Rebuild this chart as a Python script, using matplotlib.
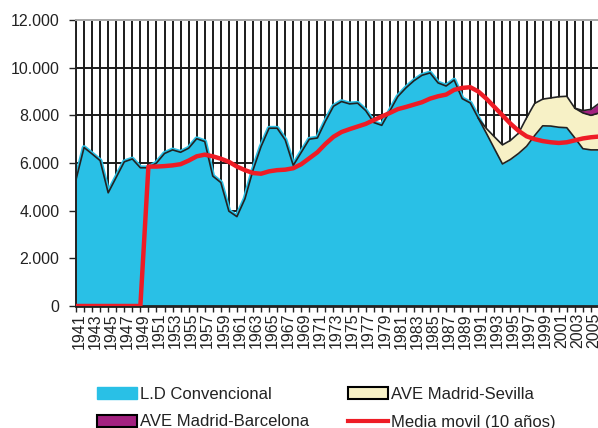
import numpy as np
import matplotlib.pyplot as plt
import matplotlib.transforms as mtransforms
from matplotlib.patches import Patch
from matplotlib.lines import Line2D

plt.rcParams['font.family'] = ['Liberation Sans', 'DejaVu Sans']

years = np.arange(1941, 2007)
convencional = [5300, 6650, 6380, 6100, 4750, 5400, 6050, 6170, 5800, 5800,
                6000, 6400, 6550, 6450, 6620, 7020, 6900, 5450, 5180, 3980,
                3750, 4500, 5700, 6690, 7460, 7460, 6970, 5900, 6450, 7000,
                7050, 7750, 8380, 8580, 8480, 8510, 8200, 7700, 7580, 8180,
                8790, 9150, 9450, 9680, 9780, 9360, 9230, 9480, 8700, 8520,
                7880, 7250, 6600, 5960, 6150, 6400, 6700, 7150, 7560, 7550,
                7500, 7480, 7050, 6600, 6550, 6550]
sevilla_years = np.arange(1991, 2007)
sevilla = [0, 200, 500, 800, 800, 850, 1200, 1350, 1120, 1180, 1280, 1320,
           1250, 1500, 1450, 1550]
barcelona_years = np.arange(2003, 2007)
barcelona = [0, 100, 250, 400]
media_movil = [0, 0, 0, 0, 0, 0, 0, 0, 0,
               5850, 5850, 5870, 5900, 5950, 6100, 6280, 6350, 6280, 6180,
               6050, 5850, 5700, 5580, 5550, 5650, 5700, 5720, 5780, 5950,
               6200, 6450, 6800, 7100, 7300, 7420, 7530, 7640, 7800, 7950,
               8100, 8260, 8350, 8450, 8550, 8700, 8800, 8870, 9070, 9150,
               9180, 9000, 8700, 8350, 8000, 7650, 7350, 7120, 7000, 6920,
               6870, 6840, 6870, 6950, 7030, 7080, 7110]
yticks = [0, 2000, 4000, 6000, 8000, 10000, 12000]
ylabels = ['0', '2.000', '4.000', '6.000', '8.000', '10.000', '12.000']
labels = ['L.D Convencional', 'AVE Madrid-Barcelona', 'AVE Madrid-Sevilla',
          'Media movil (10 años)']

blue = '#29c0e6'
cream = '#f7f1c6'
purple = '#a3217f'
red = '#ee1c25'
ink = '#222222'

conv = np.array(convencional, dtype=float)
sev = np.array(sevilla, dtype=float)
bar = np.array(barcelona, dtype=float)
conv_sev = conv[years >= 1991]
sev_top = conv_sev + sev
bar_base = sev_top[sevilla_years >= 2003]
bar_top = bar_base + bar

fig = plt.figure(figsize=(5.98, 4.28), dpi=100)
ax = fig.add_axes([76 / 598, 122 / 428, 523 / 598, 286 / 428])

ax.fill_between(years, 0, conv, color=blue, lw=0, zorder=1)
ax.plot(years, conv, color=blue, lw=3.4, zorder=2, solid_joinstyle='round')
ax.plot(years, conv, color=ink, lw=1.2, zorder=3)

ax.fill_between(sevilla_years, conv_sev, sev_top, color=cream, lw=0, zorder=2.5)
ax.plot(sevilla_years, sev_top, color=ink, lw=1.2, zorder=3)
ax.fill_between(barcelona_years, bar_base, bar_top, color=purple, lw=0, zorder=2.5)
ax.plot(barcelona_years, bar_top, color=ink, lw=1.2, zorder=3)

ax.plot(years, media_movil, color=red, lw=3.2, zorder=4, solid_joinstyle='round')

ax.set_xlim(1941, 2006)
ax.set_ylim(0, 12000)
ax.set_xticks(years)
ax.set_xticklabels([str(y) if y % 2 == 1 else '' for y in years],
                   rotation=90, fontsize=11.5, color=ink)
ax.set_yticks(yticks)
ax.set_yticklabels(ylabels, fontsize=11.5, color=ink)
ax.tick_params(axis='x', length=4, width=1, pad=1, color=ink)
ax.tick_params(axis='y', length=5, width=1, pad=7, color=ink)

offset = mtransforms.ScaledTranslation(3 / 100, 0, fig.dpi_scale_trans)
for lab in ax.get_xticklabels():
    lab.set_transform(lab.get_transform() + offset)

ax.set_axisbelow(True)
ax.grid(True, color='#1a1a1a', lw=1.4)
ax.get_ygridlines()[-1].set_color('#a8a8a8')

ax.spines['right'].set_visible(False)
ax.spines['top'].set_color('#a8a8a8')
ax.spines['top'].set_linewidth(1.4)
ax.spines['left'].set_color(ink)
ax.spines['left'].set_linewidth(1.4)
ax.spines['bottom'].set_color(ink)
ax.spines['bottom'].set_linewidth(2)

handles = [Patch(facecolor=blue, edgecolor=blue),
           Patch(facecolor=purple, edgecolor='black', lw=1.5),
           Patch(facecolor=cream, edgecolor='black', lw=1.5),
           Line2D([0], [0], color=red, lw=3)]
leg = fig.legend(handles, labels, ncol=2, loc='upper left',
                 bbox_to_anchor=(97 / 598, 1 - 387 / 428), frameon=False,
                 fontsize=12, handlelength=2.4, handleheight=0.75,
                 handletextpad=0.2, columnspacing=2.3, labelspacing=0.75,
                 borderaxespad=0, borderpad=0)
for t in leg.get_texts():
    t.set_color(ink)

fig.savefig('out.png', dpi=100)
